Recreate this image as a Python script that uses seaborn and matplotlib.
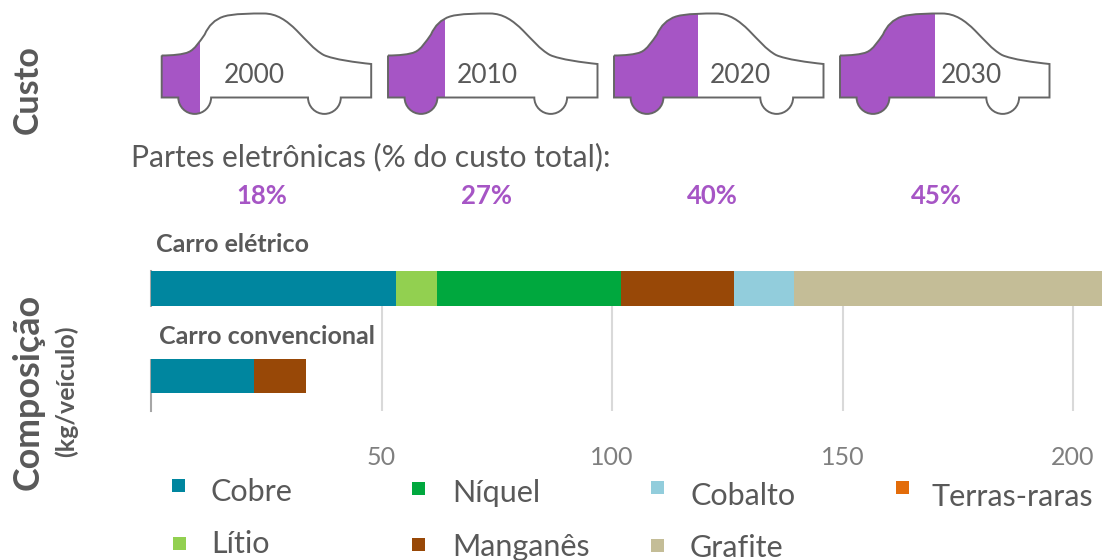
import matplotlib
matplotlib.use("Agg")
import matplotlib.pyplot as plt
from matplotlib.patches import PathPatch, Rectangle
from matplotlib.path import Path
import numpy as np
import pandas as pd
import seaborn as sns

vehicles = ["Carro elétrico", "Carro convencional"]
materials = ["Cobre", "Lítio", "Níquel", "Manganês", "Cobalto", "Grafite", "Terras-raras"]
colors = ["#00869F", "#92D050", "#00A83E", "#984807", "#92CDDC", "#C4BD97", "#E36C0A"]
electric = [53.2, 8.8, 40.0, 24.5, 13.0, 66.8, 0.0]
conventional = [22.3, 0.0, 0.0, 11.3, 0.0, 0.0, 0.0]
years = ["2000", "2010", "2020", "2030"]
electronics_share = [18, 27, 40, 45]
x_ticks = [50, 100, 150, 200]

sns.set_theme(style="white")
plt.rcParams["font.family"] = ["Lato", "DejaVu Sans"]
W, H = 1102, 560
GRAY = "#595959"
PURPLE = "#A655C5"

fig = plt.figure(figsize=(W / 100, H / 100), dpi=100, facecolor="white")

# --- bar chart
left, right, top, bottom = 151, 1102, 271, 411
ax = fig.add_axes([left / W, 1 - bottom / H, (right - left) / W, (bottom - top) / H])
long = pd.DataFrame({"vehicle": vehicles * len(materials),
                     "material": np.repeat(materials, 2),
                     "value": [v for pair in zip(electric, conventional) for v in pair]})
long["order"] = long["material"].map({m: i for i, m in enumerate(materials)})
long["cum"] = long.sort_values("order").groupby("vehicle")["value"].cumsum()
for m, c in reversed(list(zip(materials, colors))):
    sub = long[long["material"] == m]
    sub = sub[sub["value"] > 0]
    if len(sub) == 0:
        continue
    sns.barplot(data=sub, y="vehicle", x="cum", order=vehicles, orient="h", color=c,
                width=0.4, saturation=1, ax=ax, linewidth=0, zorder=3, errorbar=None)
ax.set_xlim(0, (right - left) / 4.61)
ax.set_ylim(1.4, -0.2)
ax.set_xlabel("")
ax.set_ylabel("")
ax.set_yticks([])
ax.set_xticks(x_ticks)
ax.tick_params(axis="x", length=0, pad=25, labelsize=18, labelcolor="#7F7F7F")
for lab in ax.get_xticklabels():
    lab.set_fontfamily(["Lato", "DejaVu Sans"])
ax.grid(axis="x", color="#D9D9D9", linewidth=1.5, zorder=0)
ax.set_axisbelow(True)
for s in ["top", "right", "bottom"]:
    ax.spines[s].set_visible(False)
ax.spines["left"].set_color("#A6A6A6")
ax.spines["left"].set_linewidth(1.5)
ax.patch.set_alpha(0)

# --- overlay in figure pixels
ov = fig.add_axes([0, 0, 1, 1], zorder=5)
ov.set_xlim(0, W)
ov.set_ylim(H, 0)
ov.axis("off")

# white mask behind the conventional car label
ov.add_patch(Rectangle((148, 307), 233, 51.5, fc="white", ec="none", zorder=1))

K = 0.5522847
def car_path(x0, y0=97.5):
    r = 16.4
    w1, w2 = 33.0, 162.7
    P = lambda x, y: (x0 + x, y0 + y)
    v = [P(0, -42),
         P(10, -42), P(22, -43), P(27, -45.5),
         P(33, -48), P(38, -56), P(43, -63),
         P(47, -72), P(53, -78), P(62, -81),
         P(72, -84), P(90, -84), P(102, -84),
         P(115, -84), P(125, -77), P(135, -67),
         P(144, -58), P(152, -48), P(162, -42.5),
         P(172, -38), P(195, -35), P(209.5, -33.5),
         P(209.5, 0), P(w2 + r, 0),
         P(w2 + r, r * K), P(w2 + r * K, r), P(w2, r),
         P(w2 - r * K, r), P(w2 - r, r * K), P(w2 - r, 0),
         P(w1 + r, 0),
         P(w1 + r, r * K), P(w1 + r * K, r), P(w1, r),
         P(w1 - r * K, r), P(w1 - r, r * K), P(w1 - r, 0),
         P(0, 0), P(0, -42)]
    c = [Path.MOVETO] + [Path.CURVE4] * 21 + [Path.LINETO] * 2 \
        + [Path.CURVE4] * 6 + [Path.LINETO] + [Path.CURVE4] * 6 + [Path.LINETO] * 2
    return Path(v, c)

car_lefts = [161.7, 388, 614, 840]
year_x = [254, 487, 740, 971]
pct_x = [262, 487, 712, 936]
for x0, yr, yx, px, share in zip(car_lefts, years, year_x, pct_x, electronics_share):
    p = car_path(x0)
    r = Rectangle((x0, 0), 210 * share / 100, 130, fc=PURPLE, ec="none", zorder=2)
    ov.add_patch(r)
    r.set_clip_path(PathPatch(p, transform=ov.transData))
    ov.add_patch(PathPatch(p, fc="none", ec="#666666", lw=1.4, zorder=3))
    ov.text(yx, 75.5, yr, color=GRAY, fontsize=19, ha="center", va="center", zorder=4)
    ov.text(px, 195.5, f"{share}%", color=PURPLE, fontsize=18.5, fontweight="bold",
            ha="center", va="center")

ov.text(131, 157, "Partes eletrônicas (% do custo total):", color=GRAY, fontsize=21.6,
        ha="left", va="center")
ov.text(156, 244, vehicles[0], color=GRAY, fontsize=18, fontweight="bold", ha="left", va="center", zorder=4)
ov.text(159, 336, vehicles[1], color=GRAY, fontsize=18, fontweight="bold", ha="left", va="center", zorder=4)
ov.text(28, 90, "Custo", color=GRAY, fontsize=24.5, fontweight="bold", rotation=90, ha="center", va="center")
ov.text(28, 392, "Composição", color=GRAY, fontsize=25.8, fontweight="bold", rotation=90, ha="center", va="center")
ov.text(66, 391, "(kg/veículo)", color=GRAY, fontsize=18, fontweight="bold", rotation=90, ha="center", va="center")

# --- legend
legend_pos = {"Cobre": (178, 485, 211, 492), "Níquel": (418, 488, 452, 493),
              "Cobalto": (657, 487, 690, 496), "Terras-raras": (902, 487, 931, 497),
              "Lítio": (179, 543, 211, 544), "Manganês": (418, 544, 452, 547),
              "Grafite": (657, 545, 690, 548)}
for m, c in zip(materials, colors):
    sx, sy, tx, ty = legend_pos[m]
    ov.add_patch(Rectangle((sx - 6.5, sy - 6.5), 13, 13, fc=c, ec="none"))
    ov.text(tx, ty, m, color=GRAY, fontsize=22, ha="left", va="center")

fig.savefig("out.png", dpi=100)
